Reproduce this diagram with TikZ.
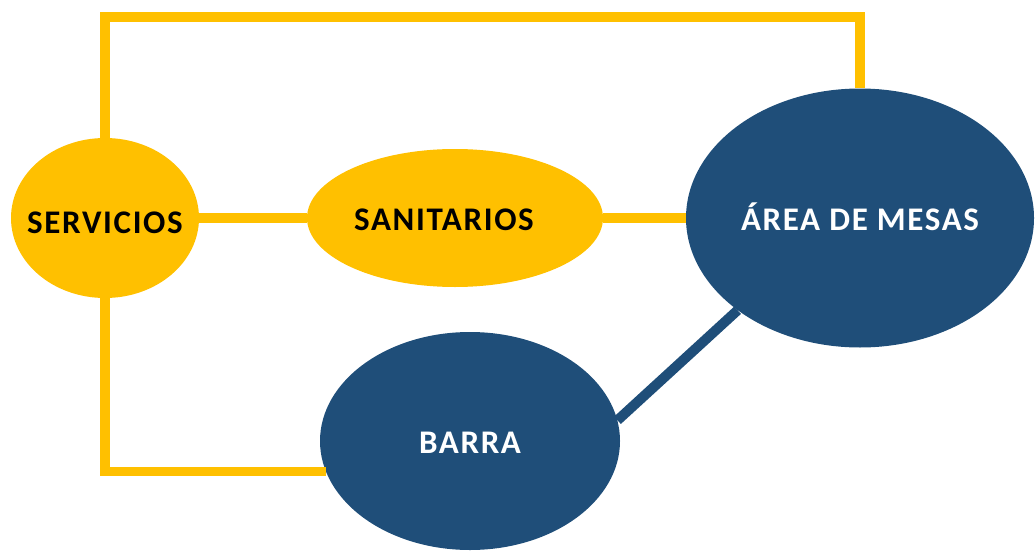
\documentclass[tikz,border=0pt]{standalone}
\usepackage{fontspec}
\setmainfont{Carlito}
\usetikzlibrary{shapes.geometric}
\definecolor{gold}{HTML}{FFC000}
\definecolor{navy}{HTML}{1F4E79}
\newcommand{\labfont}{\bfseries\fontsize{33}{33}\selectfont\addfontfeature{LetterSpace=5}}
\newcommand{\lab}[1]{\makebox[0pt][c]{#1}}
\tikzset{
  yellowbox/.style={ellipse, fill=gold, draw=none, inner sep=0pt, text=black, font=\labfont, text height=25pt, text depth=0pt},
  bluebox/.style={ellipse, fill=navy, draw=none, inner sep=0pt, text=white, font=\labfont, text height=25pt, text depth=0pt},
  yline/.style={draw=gold, line width=9.5pt, line join=miter},
  bline/.style={draw=navy, line width=10pt},
}
\begin{document}
\begin{tikzpicture}[x=1pt, y=-1pt]
\useasboundingbox (0,0) rectangle (1035,551);
\node[yellowbox, minimum width=188pt, minimum height=160pt, text height=30pt] (serv) at (105,218) {\lab{SERVICIOS}};
\node[yellowbox, minimum width=296pt, minimum height=138pt] (sani) at (455,218) {\lab{SANITARIOS\hspace*{22pt}}};
\node[bluebox, minimum width=348pt, minimum height=259pt] (area) at (860,218) {\lab{ÁREA DE MESAS}};
\node[bluebox, minimum width=300pt, minimum height=218pt] (barra) at (470,441) {\lab{BARRA}};
\coordinate (topy) at (0,17);
\draw[yline] (serv.north) -- (serv.north |- topy) -| (area.north);
\draw[yline] (serv.east) -- (sani.west);
\draw[yline] (sani.east) -- (area.west);
\draw[yline] (serv.south) |- (barra.192);
\draw[bline] (barra.8) -- (area.217);
\end{tikzpicture}
\end{document}
